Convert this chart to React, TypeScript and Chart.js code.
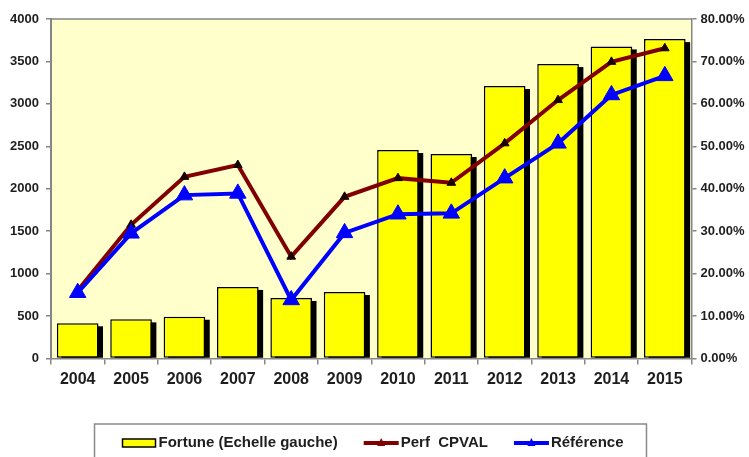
import React, { useEffect, useRef } from 'react';
import { Chart, registerables } from 'chart.js';

Chart.register(...registerables);

const years = ['2004', '2005', '2006', '2007', '2008', '2009', '2010', '2011', '2012', '2013', '2014', '2015'];
const fortune = [415, 461, 492, 843, 713, 783, 2456, 2409, 3210, 3469, 3677, 3763];
const perfCpval = [16.0, 31.5, 42.8, 45.6, 24.0, 38.1, 42.5, 41.4, 50.7, 60.9, 69.9, 73.1];
const reference = [15.5, 29.5, 38.5, 38.9, 13.8, 29.6, 34.0, 34.2, 42.5, 50.7, 62.1, 66.6];
const seriesLabels = ['Fortune (Echelle gauche)', 'Perf  CPVAL', 'Référence'];
const leftMax = 4000;
const leftStep = 500;
const rightMax = 80;
const rightStep = 10;

const FONT = '"Liberation Sans", Arial, sans-serif';
const TEXT = '#1e1e1e';
const AXIS = '#858585';

const backgroundPlugin = {
  id: 'bg',
  beforeDraw(chart: any) {
    const { ctx, chartArea } = chart;
    ctx.save();
    ctx.fillStyle = '#ffffff';
    ctx.fillRect(0, 0, chart.width, chart.height);
    ctx.fillStyle = '#FFFFCC';
    ctx.fillRect(chartArea.left, chartArea.top, chartArea.right - chartArea.left, chartArea.bottom - chartArea.top);
    ctx.restore();
  },
  beforeDatasetsDraw(chart: any) {
    const { ctx, chartArea } = chart;
    ctx.save();
    // top border of plot area
    ctx.strokeStyle = AXIS;
    ctx.lineWidth = 1.5;
    ctx.beginPath();
    ctx.moveTo(chartArea.left, chartArea.top);
    ctx.lineTo(chartArea.right, chartArea.top);
    ctx.stroke();
    // bar shadows
    const meta = chart.getDatasetMeta(0);
    ctx.fillStyle = '#000000';
    meta.data.forEach((el: any) => {
      const p = el.getProps(['x', 'y', 'base', 'width'], true);
      const left = p.x - p.width / 2 + 4.5;
      const top = p.y + 3;
      ctx.fillRect(left, top, p.width, p.base - top);
    });
    ctx.restore();
  },
};

const legendPlugin = {
  id: 'boxLegend',
  afterDraw(chart: any) {
    const { ctx } = chart;
    const ds = chart.data.datasets;
    ctx.save();
    ctx.font = `bold 15px ${FONT}`;
    const symW = 35;
    const gapSym = 2;
    const gapItem = 26;
    const widths = ds.map((d: any) => ctx.measureText(d.label).width);
    const total = widths.reduce((a: number, w: number) => a + symW + gapSym + w, 0) + gapItem * (ds.length - 1);
    const cx = 372.5;
    let x = cx - total / 2;
    const cy = 443;
    ctx.strokeStyle = '#8a8a8a';
    ctx.lineWidth = 1.5;
    ctx.strokeRect(x - 27, 424, total + 27 + 23, 60);
    ds.forEach((d: any, i: number) => {
      if (i === 0) {
        ctx.fillStyle = d.backgroundColor;
        ctx.fillRect(x + 1, cy - 4, symW - 2, 8);
        ctx.strokeStyle = '#000';
        ctx.lineWidth = 1.5;
        ctx.strokeRect(x + 1, cy - 4, symW - 2, 8);
      } else {
        ctx.strokeStyle = d.borderColor;
        ctx.lineWidth = 4;
        ctx.beginPath();
        ctx.moveTo(x, cy);
        ctx.lineTo(x + symW, cy);
        ctx.stroke();
        ctx.fillStyle = d.borderColor;
        const mx = x + symW / 2;
        ctx.beginPath();
        ctx.moveTo(mx, cy - 5);
        ctx.lineTo(mx + 4, cy + 3);
        ctx.lineTo(mx - 4, cy + 3);
        ctx.closePath();
        ctx.fill();
      }
      ctx.fillStyle = TEXT;
      ctx.textBaseline = 'middle';
      ctx.textAlign = 'left';
      ctx.fillText(d.label, x + symW + gapSym, cy);
      x += symW + gapSym + widths[i] + gapItem;
    });
    ctx.restore();
  },
};

export default function App() {
  const ref = useRef<HTMLCanvasElement | null>(null);

  useEffect(() => {
    if (!ref.current) return;
    const chart = new Chart(ref.current, {
      type: 'bar',
      data: {
        labels: years,
        datasets: [
          {
            type: 'bar',
            label: seriesLabels[0],
            data: fortune,
            yAxisID: 'y',
            backgroundColor: '#FFFF00',
            borderColor: '#000000',
            borderWidth: 1.5,
            borderSkipped: false,
            barPercentage: 0.78,
            categoryPercentage: 1,
            order: 3,
          } as any,
          {
            type: 'line',
            label: seriesLabels[1],
            data: perfCpval,
            yAxisID: 'y1',
            borderColor: '#800000',
            backgroundColor: '#800000',
            borderWidth: 4,
            pointStyle: 'triangle',
            pointRadius: 5,
            pointBackgroundColor: '#1a0000',
            pointBorderColor: '#1a0000',
            pointBorderWidth: 1,
            tension: 0,
            fill: false,
            order: 2,
          } as any,
          {
            type: 'line',
            label: seriesLabels[2],
            data: reference,
            yAxisID: 'y1',
            borderColor: '#0000FF',
            backgroundColor: '#0000FF',
            borderWidth: 4,
            pointStyle: 'triangle',
            pointRadius: 9.5,
            pointBackgroundColor: '#0000FF',
            pointBorderColor: '#0000FF',
            pointBorderWidth: 1,
            tension: 0,
            fill: false,
            order: 1,
          } as any,
        ],
      },
      options: {
        responsive: false,
        animation: false,
        events: [],
        layout: { padding: { top: 19, left: 0, right: 0, bottom: 0 } },
        plugins: {
          legend: { display: false },
          tooltip: { enabled: false },
          title: { display: false },
        },
        scales: {
          x: {
            offset: true,
            grid: {
              offset: true,
              drawOnChartArea: false,
              drawTicks: true,
              tickLength: 6,
              color: AXIS,
              lineWidth: 1.5,
            },
            border: { color: AXIS, width: 1.5 },
            ticks: {
              font: { family: FONT, size: 16, weight: 'bold' },
              color: TEXT,
              padding: 5,
              maxRotation: 0,
              autoSkip: false,
            },
            afterFit: (s: any) => {
              s.height = 98.5;
            },
          },
          y: {
            position: 'left',
            min: 0,
            max: leftMax,
            grid: {
              drawOnChartArea: false,
              drawTicks: true,
              tickLength: 5,
              color: AXIS,
              lineWidth: 1.5,
            },
            border: { color: AXIS, width: 2 },
            ticks: {
              stepSize: leftStep,
              font: { family: FONT, size: 13, weight: 'bold' },
              color: TEXT,
              padding: 7,
              callback: (v: any) => `${Number(v)}`,
            },
            afterFit: (s: any) => {
              s.width = 51;
            },
          },
          y1: {
            position: 'right',
            min: 0,
            max: rightMax,
            grid: {
              drawOnChartArea: false,
              drawTicks: true,
              tickLength: 5,
              color: AXIS,
              lineWidth: 1.5,
            },
            border: { color: AXIS, width: 1.5 },
            ticks: {
              stepSize: rightStep,
              font: { family: FONT, size: 13, weight: 'bold' },
              color: TEXT,
              padding: 4,
              callback: (v: any) => `${Number(v).toFixed(2)}%`,
            },
            afterFit: (s: any) => {
              s.width = 57.5;
            },
          },
        },
      } as any,
      plugins: [backgroundPlugin, legendPlugin],
    });
    return () => chart.destroy();
  }, []);

  return (
    <div style={{ position: 'fixed', left: 0, top: 0, width: 749, height: 457, background: '#fff' }}>
      <canvas ref={ref} width={749} height={457} style={{ display: 'block', width: 749, height: 457 }} />
    </div>
  );
}
